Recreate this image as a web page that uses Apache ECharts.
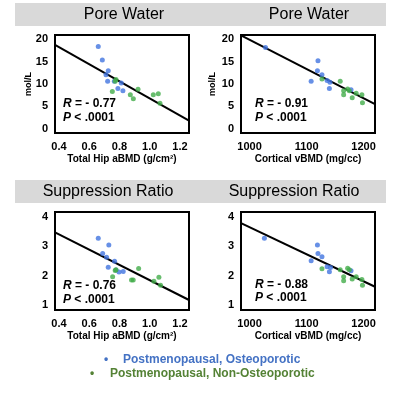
<!DOCTYPE html>
<html><head><meta charset="utf-8">
<script src="https://cdn.jsdelivr.net/npm/echarts@6/dist/echarts.min.js"></script>
<style>html,body{margin:0;padding:0;background:#fff}#c{width:398px;height:400px}</style>
</head><body><div id="c"></div>
<script>
// ---- data ----
var titles = ['Pore Water', 'Pore Water', 'Suppression Ratio', 'Suppression Ratio'];
var xNames = ['Total Hip aBMD (g/cm\u00B2)', 'Cortical vBMD (mg/cc)'];
var yName = 'mol/L';
var hipTicks = [0.4, 0.6, 0.8, 1.0, 1.2];
var cortTicks = [1000, 1100, 1200];
var pwTicks = [0, 5, 10, 15, 20];
var srTicks = [1, 2, 3, 4];
var stats = [['- 0.77', '.0001'], ['- 0.91', '.0001'], ['- 0.76', '.0001'], ['- 0.88', '.0001']];
var legendLabels = ['Postmenopausal, Osteoporotic', 'Postmenopausal, Non-Osteoporotic'];

var pwHipBlue = [[0.66,18.4],[0.687,15.4],[0.726,13.0],[0.711,12.1],[0.722,10.6],[0.766,10.6],[0.812,10.2],[0.79,9.0],[0.823,8.5]];
var pwHipGreen = [[0.753,8.3],[0.777,11.0],[0.772,10.6],[0.872,7.6],[0.892,6.7],[0.923,8.8],[1.024,7.6],[1.057,7.8],[1.068,5.7]];
var pwCortBlue = [[1028,18.2],[1120,15.2],[1119,13.0],[1127,12.1],[1108,10.6],[1136,10.8],[1141,10.4],[1140,9.0],[1178,8.7]];
var pwCortGreen = [[1127,11.1],[1159,10.6],[1165,8.5],[1165,7.6],[1172,8.9],[1187,7.9],[1180,6.9],[1197,7.6],[1198,5.8],[1175,8.5]];
var srHipBlue = [[0.66,3.27],[0.73,3.04],[0.689,2.75],[0.715,2.62],[0.768,2.49],[0.726,2.28],[0.777,2.19],[0.797,2.12],[0.825,2.14]];
var srHipGreen = [[0.777,2.2],[0.772,2.17],[0.755,1.96],[0.88,1.85],[0.891,1.85],[0.927,2.24],[1.028,1.81],[1.061,1.94],[1.072,1.67]];
var srCortBlue = [[1026,3.27],[1119,3.04],[1120,2.75],[1127,2.64],[1108,2.5],[1136,2.3],[1142,2.27],[1140,2.13],[1178,2.16]];
var srCortGreen = [[1127,2.23],[1159,2.2],[1165,1.96],[1165,1.82],[1172,2.25],[1180,1.88],[1187,1.96],[1197,1.87],[1198,1.67],[1175,2.2]];

var fitPwHip = [[0.374,18.8],[1.26,1.8]];
var fitPwCort = [[985,20.9],[1220,5.5]];
var fitSrHip = [[0.374,3.47],[1.26,1.17]];
var fitSrCort = [[985,3.78],[1220,1.62]];

// ---- chart ----
var FONT = '"Liberation Sans", Arial, sans-serif';
var BLUE = '#4174e0', GREEN = '#42ad4a';
var chart = echarts.init(document.getElementById('c'), null, {renderer: 'canvas'});

var grids = [
  {left: 55, top: 35, width: 134, height: 98},
  {left: 241, top: 35, width: 134, height: 98},
  {left: 55, top: 212, width: 134, height: 98},
  {left: 241, top: 212, width: 134, height: 98}
].map(function (g) {
  return Object.assign({show: true, borderColor: '#000', borderWidth: 2, backgroundColor: 'transparent', containLabel: false}, g);
});

function xAxis(i, isHip) {
  return {
    type: 'value', gridIndex: i,
    min: isHip ? 0.374 : 985, max: isHip ? 1.26 : 1220,
    axisLine: {show: false}, axisTick: {show: false}, splitLine: {show: false},
    axisLabel: {customValues: isHip ? hipTicks : cortTicks, margin: 8, color: '#000', fontSize: 11, fontWeight: 'bold', fontFamily: FONT,
      formatter: function (v) { return isHip ? v.toFixed(1) : String(v); }},
    name: isHip ? xNames[0] : xNames[1], nameLocation: 'middle', nameGap: 21,
    nameTextStyle: {color: '#000', fontSize: 10, fontWeight: 'bold', fontFamily: FONT}
  };
}
function yAxis(i, isPw) {
  return {
    type: 'value', gridIndex: i,
    min: isPw ? -1 : 0.83, max: isPw ? 21 : 4.16,
    axisLine: {show: false}, axisTick: {show: false}, splitLine: {show: false},
    axisLabel: {customValues: isPw ? pwTicks : srTicks, margin: 7, color: '#000', fontSize: 11, fontWeight: 'bold', fontFamily: FONT}
  };
}

function scatter(i, data, color) {
  return {type: 'scatter', xAxisIndex: i, yAxisIndex: i, data: data, symbolSize: 5,
    itemStyle: {color: color}, silent: true, z: 3};
}
function fit(i, data) {
  return {type: 'line', xAxisIndex: i, yAxisIndex: i, data: data, symbol: 'none',
    lineStyle: {color: '#000', width: 2}, silent: true, z: 2};
}

var titlePos = [[124, 15], [309, 15], [108, 192], [294, 192]];
var statPos = [[63, 104, 118], [255, 104, 118], [63, 286, 300], [255, 285, 298]];
var yNamePos = [[29, 84], [213, 84]];

var graphics = [
  {type: 'rect', shape: {x: 15, y: 3, width: 371, height: 23}, style: {fill: '#d9d9d9'}, z: -1},
  {type: 'rect', shape: {x: 15, y: 180, width: 371, height: 23}, style: {fill: '#d9d9d9'}, z: -1}
];
titles.forEach(function (t, i) {
  graphics.push({type: 'text', x: titlePos[i][0], y: titlePos[i][1],
    style: {text: t, fill: '#000', font: '16px ' + FONT, align: 'center', verticalAlign: 'middle'}});
});
yNamePos.forEach(function (p) {
  graphics.push({type: 'text', x: p[0], y: p[1], rotation: Math.PI / 2,
    style: {text: yName, fill: '#000', font: 'bold 9px ' + FONT, align: 'center', verticalAlign: 'middle'}});
});
stats.forEach(function (s, i) {
  var p = statPos[i];
  graphics.push({type: 'text', x: p[0], y: p[1], style: {text: '{i|R} = ' + s[0], verticalAlign: 'middle', align: 'left',
    rich: {i: {fontStyle: 'italic', fontWeight: 'bold', fontSize: 12, fontFamily: FONT, fill: '#000'}},
    fill: '#000', font: 'bold 12px ' + FONT}});
  graphics.push({type: 'text', x: p[0], y: p[2], style: {text: '{i|P} < ' + s[1], verticalAlign: 'middle', align: 'left',
    rich: {i: {fontStyle: 'italic', fontWeight: 'bold', fontSize: 12, fontFamily: FONT, fill: '#000'}},
    fill: '#000', font: 'bold 12px ' + FONT}});
});
var legendColors = ['#4472c4', '#548235'];
var legendPos = [[104, 123, 360], [90, 110, 374]];
legendLabels.forEach(function (l, i) {
  var p = legendPos[i];
  graphics.push({type: 'text', x: p[0], y: p[2], style: {text: '\u2022', fill: legendColors[i], font: 'bold 12px ' + FONT, align: 'left', verticalAlign: 'middle'}});
  graphics.push({type: 'text', x: p[1], y: p[2], style: {text: l, fill: legendColors[i], font: 'bold 12px ' + FONT, align: 'left', verticalAlign: 'middle'}});
});

chart.setOption({
  animation: false,
  grid: grids,
  xAxis: [xAxis(0, true), xAxis(1, false), xAxis(2, true), xAxis(3, false)],
  yAxis: [yAxis(0, true), yAxis(1, true), yAxis(2, false), yAxis(3, false)],
  series: [
    fit(0, fitPwHip), scatter(0, pwHipBlue, BLUE), scatter(0, pwHipGreen, GREEN),
    fit(1, fitPwCort), scatter(1, pwCortBlue, BLUE), scatter(1, pwCortGreen, GREEN),
    fit(2, fitSrHip), scatter(2, srHipBlue, BLUE), scatter(2, srHipGreen, GREEN),
    fit(3, fitSrCort), scatter(3, srCortBlue, BLUE), scatter(3, srCortGreen, GREEN)
  ],
  graphic: graphics
});
</script></body></html>
